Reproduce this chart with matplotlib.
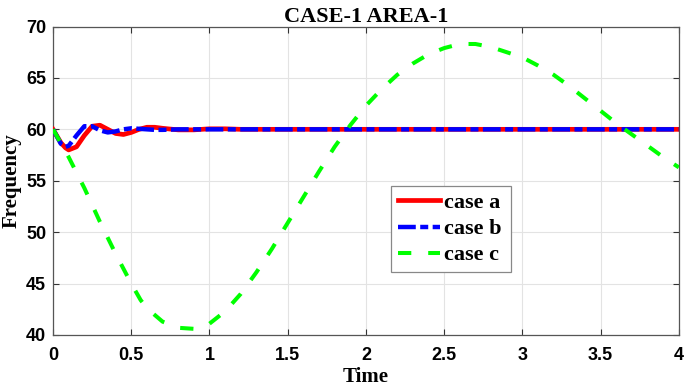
import matplotlib
matplotlib.use("Agg")
import matplotlib.pyplot as plt

# ---- data ----
t_ab = [0, 0.05, 0.08, 0.1, 0.15, 0.2, 0.25, 0.3, 0.35, 0.4, 0.45, 0.5,
        0.55, 0.6, 0.65, 0.7, 0.8, 0.9, 1.0, 1.1, 1.2, 1.5, 2.0, 2.5,
        3.0, 3.5, 4.0]
case_a = [60, 58.7, 58.2, 58.0, 58.3, 59.4, 60.3, 60.4, 60.0, 59.6, 59.5,
          59.7, 60.0, 60.2, 60.2, 60.1, 59.95, 59.95, 60.05, 60.05, 60.0,
          60.0, 60.0, 60.0, 60.0, 60.0, 60.0]
case_b = [60, 58.6, 58.3, 58.4, 59.4, 60.3, 60.3, 59.9, 59.7, 59.8, 60.0,
          60.1, 60.05, 60.0, 59.95, 59.95, 60.0, 60.0, 60.0, 60.0, 60.0,
          60.0, 60.0, 60.0, 60.0, 60.0, 60.0]

t_c = [0, 0.1, 0.2, 0.3, 0.4, 0.5, 0.56, 0.6, 0.7, 0.8, 0.9, 1.0, 1.1,
       1.2, 1.3, 1.4, 1.5, 1.6, 1.7, 1.8, 1.9, 2.0, 2.1, 2.2, 2.3, 2.4,
       2.5, 2.6, 2.7, 2.8, 2.9, 3.0, 3.1, 3.2, 3.3, 3.4, 3.5, 3.6, 3.7,
       3.8, 3.9, 4.0]
case_c = [60, 57.3, 54.3, 51.0, 47.9, 45.0, 43.4, 42.6, 41.3, 40.7, 40.6,
          41.1, 42.3, 44.0, 46.1, 48.4, 50.9, 53.4, 55.9, 58.3, 60.4, 62.3,
          63.9, 65.3, 66.4, 67.3, 67.9, 68.3, 68.3, 68.0, 67.5, 67.0, 66.2,
          65.3, 64.2, 63.0, 61.8, 60.6, 59.5, 58.4, 57.3, 56.3]

labels = ["case a", "case b", "case c"]
x_ticks = [0, 0.5, 1, 1.5, 2, 2.5, 3, 3.5, 4]
y_ticks = [40, 45, 50, 55, 60, 65, 70]

serif = "Liberation Serif"
sans = "Liberation Sans"

fig = plt.figure(figsize=(6.85, 3.87), dpi=100)
ax = fig.add_axes([0.0774, 0.1344, 0.9136, 0.7971])

ax.plot(t_ab, case_a, color="#ff0000", lw=3.4, label=labels[0], zorder=3)
ax.plot(t_ab, case_b, color="#0000ff", lw=3.2, label=labels[1], zorder=4,
        dashes=(4.0, 1.0, 1.8, 1.0))
ax.plot(t_c, case_c, color="#00ff00", lw=2.9, label=labels[2], zorder=5,
        dashes=(3.3, 4.2))

ax.set_xlim(0, 4)
ax.set_ylim(40, 70)
ax.set_xticks(x_ticks)
ax.set_yticks(y_ticks)
ax.set_xticklabels([f"{v:g}" for v in x_ticks])
ax.grid(True, color="#e3e3e3", lw=0.8)
ax.set_axisbelow(True)

ax.tick_params(direction="in", length=4.5, width=0.8, color="#333333",
               top=True, right=True)
ax.tick_params(axis="x", pad=9)
ax.tick_params(axis="y", pad=5)
for lab in ax.get_xticklabels() + ax.get_yticklabels():
    lab.set_fontfamily(sans)
    lab.set_fontweight("bold")
    lab.set_fontsize(13)
for sp in ax.spines.values():
    sp.set_color("#555555")
    sp.set_linewidth(0.9)

ax.set_title("CASE-1 AREA-1", fontfamily=serif, fontweight="bold",
             fontsize=16, pad=3)
ax.set_xlabel("Time", fontfamily=serif, fontweight="bold", fontsize=15,
              labelpad=2)
ax.set_ylabel("Frequency", fontfamily=serif, fontweight="bold", fontsize=15,
              labelpad=3)

leg = ax.legend(loc="lower left", bbox_to_anchor=(0.54, 0.204, 0.192, 0.292),
                mode="expand", fancybox=False, framealpha=1,
                edgecolor="#888888", handlelength=1.9, handletextpad=0.2,
                labelspacing=0.25, borderpad=0.3, borderaxespad=0,
                prop={"family": serif, "weight": "bold", "size": 16})
leg.get_frame().set_linewidth(0.9)

fig.savefig("out.png", dpi=100)
